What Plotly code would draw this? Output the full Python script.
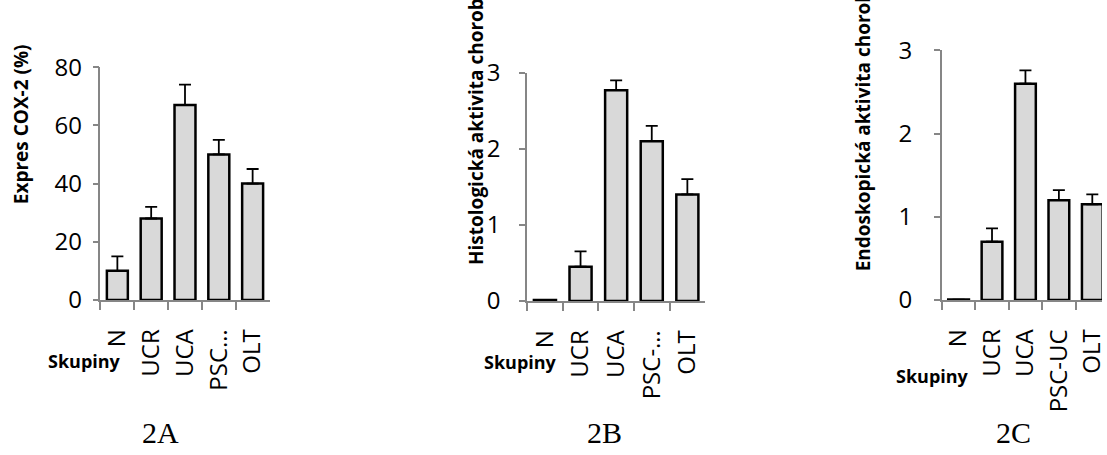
import plotly.graph_objects as go

groups_a = ["N", "UCR", "UCA", "PSC…", "OLT"]
groups_b = ["N", "UCR", "UCA", "PSC-…", "OLT"]
groups_c = ["N", "UCR", "UCA", "PSC-UC", "OLT"]

cox2 = [10, 28, 67, 50, 40]
cox2_err = [5, 4, 7, 5, 5]

histo = [0.01, 0.45, 2.77, 2.10, 1.40]
histo_err = [0, 0.20, 0.13, 0.20, 0.20]

endo = [0.005, 0.70, 2.60, 1.20, 1.15]
endo_err = [0, 0.16, 0.16, 0.12, 0.12]

ytitles = ["Expres COX-2 (%)", "Histologická aktivita choroby", "Endoskopická aktivita choroby"]
xtitle = "Skupiny"
captions = ["2A", "2B", "2C"]

W, H = 1107, 455
FONT = "Open Sans"
AXC = "#868686"

fig = go.Figure()

panels = [
    (groups_a, cox2, cox2_err, "x", "y"),
    (groups_b, histo, histo_err, "x2", "y2"),
    (groups_c, endo, endo_err, "x3", "y3"),
]
for cats, vals, errs, xa, ya in panels:
    fig.add_trace(go.Bar(
        x=cats, y=vals, xaxis=xa, yaxis=ya,
        marker=dict(color="#d9d9d9", line=dict(color="black", width=2.5)),
        error_y=dict(type="data", array=errs, arrayminus=[0] * len(errs),
                     symmetric=False, color="black", thickness=1.8, width=6),
        showlegend=False,
    ))

def px_x(p):
    return p / W

def px_y(p):
    return 1 - p / H

# pixel geometry: (x_left, x_right, y_top, y_bottom)
geo = [(100, 270, 53, 304), (529, 708, 59, 305), (946, 1107, 35, 304)]
yranges = [[0, 80], [0, 3], [0, 3]]
ydticks = [20, 1, 1]
xranges = [[-0.5, 4.5], [-0.5, 4.5], [-0.5, 4.29]]
ystand = [6, 14, 17]
layout = {}
for i, ((xl, xr, yt, yb), yr, dt, xrg, ys) in enumerate(zip(geo, yranges, ydticks, xranges, ystand)):
    sfx = "" if i == 0 else str(i + 1)
    layout["xaxis" + sfx] = dict(
        domain=[px_x(xl), px_x(xr)], anchor="y" + sfx, range=xrg, type="category",
        showline=True, linecolor=AXC, linewidth=1.5, ticks="outside", tickson="boundaries",
        ticklen=8, tickcolor=AXC, tickwidth=1.5, tickangle=-90, showgrid=False,
        tickfont=dict(family=FONT, size=24, color="black"), ticklabelstandoff=18,
        zeroline=False, fixedrange=True,
    )
    layout["yaxis" + sfx] = dict(
        domain=[px_y(yb), px_y(yt)], anchor="x" + sfx, range=yr, dtick=dt,
        showline=True, linecolor=AXC, linewidth=1.5, ticks="outside",
        ticklen=6, tickcolor=AXC, tickwidth=1.5, showgrid=False, zeroline=False,
        tickfont=dict(family=FONT, size=24, color="black"), ticklabelstandoff=ys,
        fixedrange=True,
    )

annotations = []
# y-axis titles (x center px, bottom px)
ytpos = [(20, 203), (477, 268), (867, 275)]
for t, (cx, by) in zip(ytitles, ytpos):
    annotations.append(dict(text="<b>" + t + "</b>", x=px_x(cx), y=px_y(by), xref="paper", yref="paper",
                            xanchor="center", yanchor="bottom", textangle=-90, showarrow=False,
                            font=dict(family=FONT, size=19, color="black")))
# x-axis titles
xtpos = [(84, 370), (522, 371), (937, 386)]
for cx, cy in xtpos:
    annotations.append(dict(text="<b>" + xtitle + "</b>", x=px_x(cx), y=px_y(cy), xref="paper", yref="paper",
                            xanchor="center", yanchor="middle", showarrow=False,
                            font=dict(family=FONT, size=18, color="black")))
# captions
cappos = [(160, 447), (607, 447), (1018, 447)]
for t, (cx, cy) in zip(captions, cappos):
    annotations.append(dict(text=t, x=px_x(cx), y=px_y(cy), xref="paper", yref="paper",
                            xanchor="center", yanchor="middle", showarrow=False,
                            font=dict(family="Liberation Serif", size=30, color="black")))

fig.update_layout(
    width=W, height=H, margin=dict(l=0, r=0, t=0, b=0),
    paper_bgcolor="white", plot_bgcolor="white",
    bargap=0.38, annotations=annotations, **layout,
)

fig.write_html("out.html", config={"displayModeBar": False},
               post_script="document.body.style.margin='0';document.body.style.overflow='hidden';")
